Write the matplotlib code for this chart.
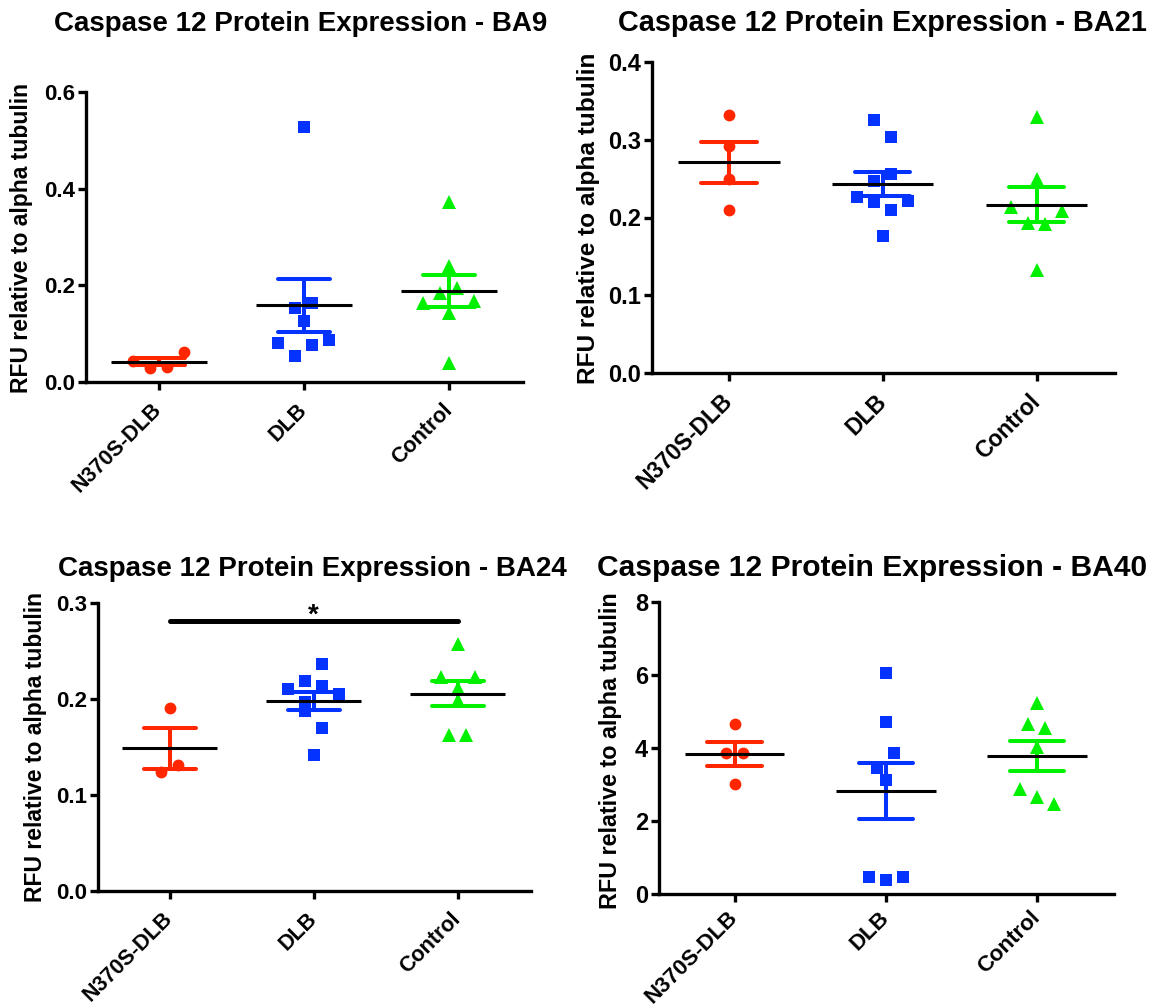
import numpy as np
import matplotlib
matplotlib.use("Agg")
import matplotlib.pyplot as plt

plt.rcParams["font.family"] = ["Liberation Sans", "DejaVu Sans"]
plt.rcParams["font.weight"] = "bold"

# ---- data (RFU relative to alpha tubulin) ----
groups = ["N370S-DLB", "DLB", "Control"]

ba9_n370s = [0.044, 0.029, 0.032, 0.063]
ba9_dlb = [0.528, 0.153, 0.164, 0.126, 0.081, 0.054, 0.076, 0.086]
ba9_control = [0.372, 0.239, 0.164, 0.184, 0.194, 0.167, 0.142, 0.039]

ba21_n370s = [0.332, 0.292, 0.249, 0.210]
ba21_dlb = [0.326, 0.304, 0.247, 0.256, 0.227, 0.220, 0.210, 0.221, 0.176]
ba21_control = [0.329, 0.250, 0.213, 0.193, 0.191, 0.208, 0.132]

ba24_n370s = [0.191, 0.124, 0.131]
ba24_dlb = [0.219, 0.236, 0.210, 0.197, 0.214, 0.205, 0.187, 0.170, 0.142]
ba24_control = [0.257, 0.223, 0.211, 0.223, 0.199, 0.162, 0.162]

ba40_n370s = [4.65, 3.85, 3.85, 3.02]
ba40_dlb = [6.06, 4.72, 3.44, 3.85, 3.13, 0.46, 0.37, 0.46]
ba40_control = [5.24, 4.65, 4.56, 4.04, 2.87, 2.65, 2.47]

ba9_ticks = [0.0, 0.2, 0.4, 0.6]
ba21_ticks = [0.0, 0.1, 0.2, 0.3, 0.4]
ba24_ticks = [0.0, 0.1, 0.2, 0.3]
ba40_ticks = [0, 2, 4, 6, 8]

# significance bracket for BA24 (N370S-DLB vs Control)
ba24_sig_level = 0.281
ba24_sig_label = "*"

# ---- styling ----
W, H = 1164, 1007
colors = ["#FF2600", "#0433FF", "#00F000"]
markers = ["o", "s", "^"]
msizes = [8.5, 9.0, 9.6]

fig = plt.figure(figsize=(W / 100, H / 100), dpi=100)


def px_axes(left, top, right, bottom):
    return fig.add_axes([left / W, 1 - bottom / H, (right - left) / W, (bottom - top) / H])


def swarm_offsets(ax, values, gap_px=18.0, spacing_px=17.0):
    """Spread points that sit at similar heights side by side, centred on the group."""
    vals = np.asarray(values, dtype=float)
    ypx = ax.transData.transform(np.column_stack([np.zeros_like(vals), vals]))[:, 1]
    order = sorted(range(len(vals)), key=lambda i: -vals[i])
    bins = []
    for i in order:
        if bins and (ypx[bins[-1][0]] - ypx[i]) < gap_px:
            bins[-1].append(i)
        else:
            bins.append([i])
    xpx_per_unit = ax.transData.transform((1, 0))[0] - ax.transData.transform((0, 0))[0]
    offs = np.zeros_like(vals)
    for b in bins:
        b = sorted(b)
        n = len(b)
        for k, i in enumerate(b):
            offs[i] = (k - (n - 1) / 2) * spacing_px
    return offs / xpx_per_unit


def draw_panel(ax, series, ticks, fmt, title, title_xy, ylabel_xy,
               title_fs=20, ylabel_fs=16.5, ytick_fs=16, xtick_fs=15.5, xpad=12):
    ax.set_xlim(-0.5, 2.51)
    ax.set_ylim(ticks[0], ticks[-1])
    for spine in ("top", "right"):
        ax.spines[spine].set_visible(False)
    for spine in ("left", "bottom"):
        ax.spines[spine].set_linewidth(2.4)
    ax.set_yticks(ticks)
    ax.set_yticklabels([fmt.format(t) for t in ticks])
    ax.set_xticks(range(len(groups)))
    ax.set_xticklabels(groups, rotation=45, ha="right", va="center",
                       rotation_mode="anchor")
    ax.tick_params(axis="both", direction="out", length=5.8, width=2.4,
                   colors="black")
    ax.tick_params(axis="y", pad=2, labelsize=ytick_fs)
    ax.tick_params(axis="x", pad=xpad, labelsize=xtick_fs)
    for lab in ax.get_xticklabels() + ax.get_yticklabels():
        lab.set_fontweight("bold")

    for g, vals in enumerate(series):
        vals = np.asarray(vals, dtype=float)
        m = vals.mean()
        s = vals.std(ddof=1) / np.sqrt(len(vals))
        c = colors[g]
        # SEM whisker with caps
        ax.plot([g, g], [m - s, m + s], color=c, lw=2.9, solid_capstyle="butt", zorder=2)
        for yv in (m - s, m + s):
            ax.plot([g - 0.18, g + 0.18], [yv, yv], color=c, lw=2.9,
                    solid_capstyle="round", zorder=2)
        # individual samples
        xs = g + swarm_offsets(ax, vals)
        ax.plot(xs, vals, linestyle="none", marker=markers[g], ms=msizes[g],
                mfc=c, mec=c, mew=0, zorder=3, clip_on=False)
        # group mean
        ax.plot([g - 0.33, g + 0.33], [m, m], color="black", lw=2.2,
                solid_capstyle="butt", zorder=4)

    fig.text(title_xy[0] / W, 1 - title_xy[1] / H, title, ha="center",
             va="baseline", fontsize=title_fs, fontweight="bold")
    fig.text(ylabel_xy[0] / W, 1 - ylabel_xy[1] / H, "RFU relative to alpha tubulin",
             rotation=90, ha="center", va="center", fontsize=ylabel_fs,
             fontweight="bold")


ax1 = px_axes(86, 92, 523, 382)
draw_panel(ax1, [ba9_n370s, ba9_dlb, ba9_control], ba9_ticks, "{:.1f}",
           "Caspase 12 Protein Expression - BA9", (301, 31), (22, 238))

ax2 = px_axes(652, 62, 1115, 373)
draw_panel(ax2, [ba21_n370s, ba21_dlb, ba21_control], ba21_ticks, "{:.1f}",
           "Caspase 12 Protein Expression - BA21", (882, 31), (588, 218),
           title_fs=20.8, ylabel_fs=17.6, ytick_fs=17, xtick_fs=16.5)

ax3 = px_axes(98, 603, 531, 891)
draw_panel(ax3, [ba24_n370s, ba24_dlb, ba24_control], ba24_ticks, "{:.1f}",
           "Caspase 12 Protein Expression - BA24", (312, 576), (36, 747))
ax3.plot([0, 2], [ba24_sig_level, ba24_sig_level], color="black", lw=3.6,
         solid_capstyle="round", zorder=5, clip_on=False)
ax3.text(1, ba24_sig_level - 0.001, ba24_sig_label, ha="center", va="baseline",
         fontsize=20, fontweight="bold")

ax4 = px_axes(659, 602, 1114, 894)
draw_panel(ax4, [ba40_n370s, ba40_dlb, ba40_control], ba40_ticks, "{:d}",
           "Caspase 12 Protein Expression - BA40", (872, 576), (610, 751),
           title_fs=21.6, ylabel_fs=16.8, ytick_fs=17, xtick_fs=16, xpad=9)

fig.savefig("out.png", dpi=100, facecolor="white")
